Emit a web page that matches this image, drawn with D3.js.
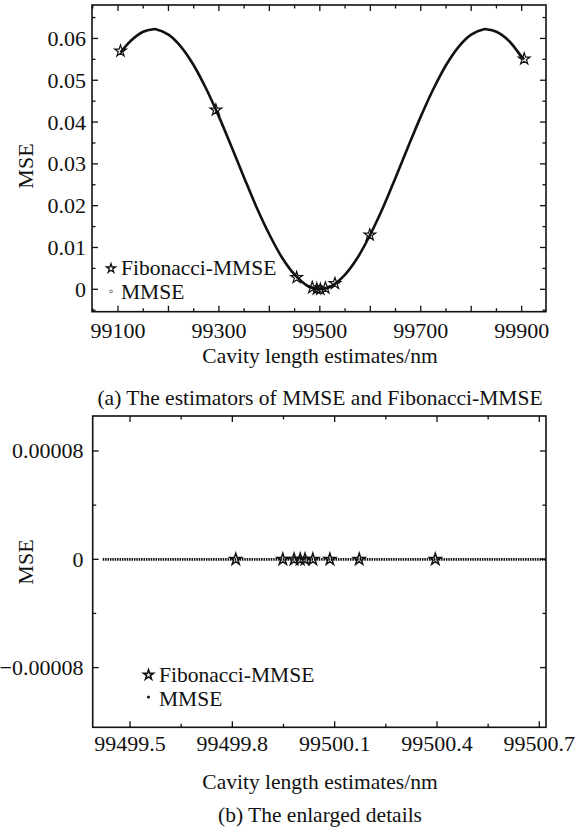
<!DOCTYPE html>
<html><head><meta charset="utf-8">
<script src="https://cdn.jsdelivr.net/npm/d3@7"></script>
<style>body{margin:0;background:#fff}svg{display:block}</style>
</head><body>
<script>
// ---- Data ----
// Panel (a): MMSE curve (dense MMSE estimates)
const curveL   = [99105,99125,99150,99170,99175,99200,99225,99250,99275,99300,99325,99350,99375,99400,99425,99450,99475,99500,99525,99550,99575,99600,99625,99650,99675,99700,99725,99750,99775,99800,99825,99830,99850,99875,99900,99905];
const curveMSE = [0.0566,0.0594,0.0616,0.0622,0.0622,0.0609,0.0580,0.0536,0.0479,0.0413,0.0341,0.0267,0.0195,0.0131,0.0076,0.0035,0.0009,0.0000,0.0009,0.0035,0.0076,0.0131,0.0195,0.0267,0.0341,0.0413,0.0479,0.0536,0.0580,0.0609,0.0622,0.0622,0.0616,0.0594,0.0556,0.0550];
// Panel (a): Fibonacci-MMSE search points
const fibL_a   = [99105,99294,99454,99485,99494,99501,99511,99530,99599,99905];
const fibMSE_a = [0.0570,0.0429,0.0028,0.0004,0.0001,0.0000,0.0003,0.0014,0.0130,0.0551];
// Panel (b): enlarged details
const mmseL_b   = [99499.42,99500.72];
const mmseMSE_b = [0,0];
const fibL_b    = [99499.81,99499.948,99499.981,99499.999,99500.013,99500.036,99500.086,99500.172,99500.395];
const fibMSE_b  = [0,0,0,0,0,0,0,0,0];
// Tick labels
const xTicksA = [99100,99300,99500,99700,99900];
const yTicksA = [0,0.01,0.02,0.03,0.04,0.05,0.06];
const xTicksB = [99499.5,99499.8,99500.1,99500.4,99500.7];
const yTicksB = [-0.00008,0,0.00008];
const legendNames = ["Fibonacci-MMSE","MMSE"];
const xTitle = "Cavity length estimates/nm";
const yTitle = "MSE";
const captionA = "(a) The estimators of MMSE and Fibonacci-MMSE";
const captionB = "(b) The enlarged details";

const W=585,H=832;
const FONT="Liberation Serif";
const svg=d3.select("body").append("svg").attr("width",W).attr("height",H)
  .attr("font-family",FONT).style("font-family","'Liberation Serif', 'Times New Roman', serif");
const ink="#111";
const starPath=(s)=>d3.symbol().type(d3.symbolStar).size(s)();
function txt(g){return g.append("text").attr("font-family",FONT).attr("fill",ink);}

function frame(g,x,y,xMaj,xMin,yMaj,yMin){
  const [x0,x1]=x.range(),[y0,y1]=y.range();
  const majL=6,minL=3.5;
  xMaj.forEach(v=>{const p=x(v);
    g.append("line").attr("x1",p).attr("x2",p).attr("y1",y0).attr("y2",y0-majL);
    g.append("line").attr("x1",p).attr("x2",p).attr("y1",y1).attr("y2",y1+majL);});
  xMin.forEach(v=>{const p=x(v);
    g.append("line").attr("x1",p).attr("x2",p).attr("y1",y0).attr("y2",y0-minL);
    g.append("line").attr("x1",p).attr("x2",p).attr("y1",y1).attr("y2",y1+minL);});
  yMaj.forEach(v=>{const p=y(v);
    g.append("line").attr("y1",p).attr("y2",p).attr("x1",x0).attr("x2",x0+majL);
    g.append("line").attr("y1",p).attr("y2",p).attr("x1",x1).attr("x2",x1-majL);});
  yMin.forEach(v=>{const p=y(v);
    g.append("line").attr("y1",p).attr("y2",p).attr("x1",x0).attr("x2",x0+minL);
    g.append("line").attr("y1",p).attr("y2",p).attr("x1",x1).attr("x2",x1-minL);});
  g.selectAll("line").attr("stroke",ink).attr("stroke-width",1.3);
  g.append("rect").attr("x",x0).attr("y",y1).attr("width",x1-x0).attr("height",y0-y1)
   .attr("fill","none").attr("stroke",ink).attr("stroke-width",1.6);
}

// ---------- Panel (a) ----------
const xa=d3.scaleLinear().domain([99048.5,99948.2]).range([92,546]);
const ya=d3.scaleLinear().domain([-0.00536,0.0680]).range([311.7,5]);
const ga=svg.append("g");
const xMajA=d3.range(99100,99901,100), xMinA=d3.range(99050,99950,100);
const yMajA=d3.range(0,0.0601,0.01), yMinA=d3.range(-0.005,0.066,0.01);
frame(ga.append("g"),xa,ya,xMajA,xMinA,yMajA,yMinA);
xTicksA.forEach(d=>txt(ga).attr("x",xa(d)).attr("y",338).attr("text-anchor","middle").attr("font-size",22).text(d));
yTicksA.forEach(d=>txt(ga).attr("x",86).attr("y",ya(d)+7.5).attr("text-anchor","end").attr("font-size",22)
  .text(d===0?"0":d3.format(".2f")(d)));
const lineA=d3.line().x((d,i)=>xa(curveL[i])).y((d,i)=>ya(curveMSE[i])).curve(d3.curveCatmullRom);
ga.append("path").attr("d",lineA(curveL)).attr("fill","none").attr("stroke",ink).attr("stroke-width",2.6);
ga.selectAll(".sa").data(fibL_a).join("path").attr("d",starPath(42))
  .attr("transform",(d,i)=>`translate(${xa(d)},${ya(fibMSE_a[i])})`)
  .attr("fill","none").attr("stroke",ink).attr("stroke-width",1.2);
// legend a
ga.append("path").attr("d",starPath(26)).attr("transform","translate(111,268.5)")
  .attr("fill","none").attr("stroke",ink).attr("stroke-width",1.3);
ga.append("circle").attr("cx",111).attr("cy",291.5).attr("r",1.4).attr("fill","none").attr("stroke","#555").attr("stroke-width",0.8);
txt(ga).attr("x",121).attr("y",275).attr("font-size",21.5).text(legendNames[0]);
txt(ga).attr("x",121).attr("y",299).attr("font-size",21.5).text(legendNames[1]);
txt(ga).attr("x",25.5).attr("y",166).attr("transform","rotate(-90,25.5,166)")
  .attr("text-anchor","middle").attr("dy","0.35em").attr("font-size",22).text(yTitle);
txt(ga).attr("x",320).attr("y",363).attr("text-anchor","middle").attr("font-size",21.5).text(xTitle);
txt(ga).attr("x",320).attr("y",405).attr("text-anchor","middle").attr("font-size",21.5).text(captionA);

// ---------- Panel (b) ----------
const xb=d3.scaleLinear().domain([99499.3906,99500.7196]).range([92.7,546]);
const yb=d3.scaleLinear().domain([-0.0001241,0.00010585]).range([727.3,416]);
const gb=svg.append("g");
const xMajB=xTicksB, xMinB=[99499.65,99499.95,99500.25,99500.55];
const yMajB=yTicksB, yMinB=[-0.00004,0.00004];
frame(gb.append("g"),xb,yb,xMajB,xMinB,yMajB,yMinB);
xTicksB.forEach(d=>txt(gb).attr("x",xb(d)).attr("y",751).attr("text-anchor","middle").attr("font-size",22)
  .text(d3.format(".1f")(d)));
yTicksB.forEach(d=>txt(gb).attr("x",83.5).attr("y",yb(d)+7.5).attr("text-anchor","end").attr("font-size",22)
  .text(d===0?"0":(d<0?"\u22120.00008":"0.00008")));
const lineB=d3.line().x((d,i)=>xb(mmseL_b[i])).y((d,i)=>yb(mmseMSE_b[i]));
gb.append("path").attr("d",lineB(mmseL_b)).attr("fill","none").attr("stroke","#111")
  .attr("stroke-width",2.8).attr("stroke-dasharray","1.5,0.9");
gb.selectAll(".sb").data(fibL_b).join("path").attr("d",starPath(42))
  .attr("transform",(d,i)=>`translate(${xb(d)},${yb(fibMSE_b[i])})`)
  .attr("fill","none").attr("stroke",ink).attr("stroke-width",1.5);
// legend b
gb.append("path").attr("d",starPath(30)).attr("transform","translate(148.5,675)")
  .attr("fill","none").attr("stroke",ink).attr("stroke-width",1.6);
gb.append("circle").attr("cx",148.5).attr("cy",697).attr("r",1.5).attr("fill",ink);
txt(gb).attr("x",159).attr("y",682).attr("font-size",21.5).text(legendNames[0]);
txt(gb).attr("x",159).attr("y",706).attr("font-size",21.5).text(legendNames[1]);
txt(gb).attr("x",25.5).attr("y",562).attr("transform","rotate(-90,25.5,562)")
  .attr("text-anchor","middle").attr("dy","0.35em").attr("font-size",22).text(yTitle);
txt(gb).attr("x",320).attr("y",789).attr("text-anchor","middle").attr("font-size",21.5).text(xTitle);
txt(gb).attr("x",320).attr("y",822).attr("text-anchor","middle").attr("font-size",21.5).text(captionB);
</script>
</body></html>
